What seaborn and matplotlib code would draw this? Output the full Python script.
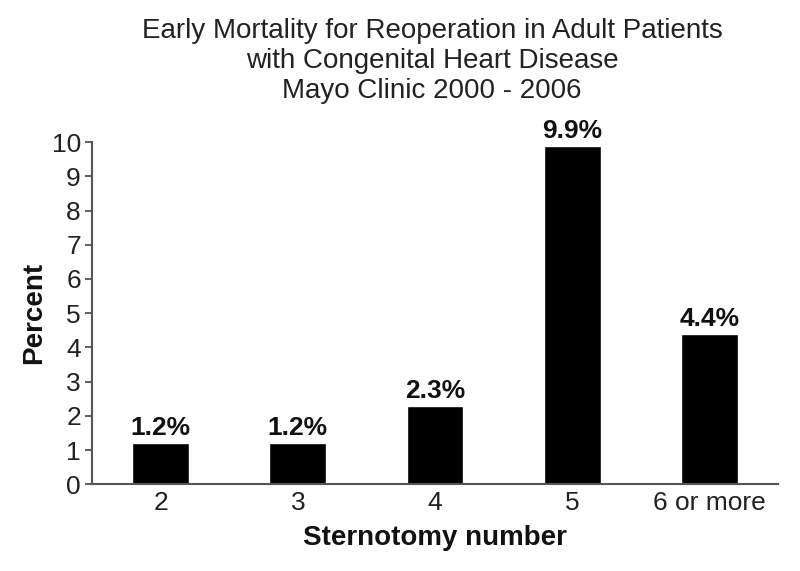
import matplotlib
matplotlib.use("Agg")
import matplotlib.pyplot as plt
import seaborn as sns
import pandas as pd

categories = ["2", "3", "4", "5", "6 or more"]
mortality = [1.2, 1.2, 2.3, 9.9, 4.4]
bar_labels = ["1.2%", "1.2%", "2.3%", "9.9%", "4.4%"]

sns.set_style("white")
plt.rcParams["font.family"] = ["Liberation Sans", "DejaVu Sans"]

df = pd.DataFrame({"sternotomy": categories, "percent": mortality})

fig = plt.figure(figsize=(8, 5.71), dpi=100)
ax = fig.add_axes([0.115, 0.152, 0.8575, 0.599])

sns.barplot(data=df, x="sternotomy", y="percent", color="black",
            width=0.415, saturation=1, ax=ax)

for i, (v, lab) in enumerate(zip(mortality, bar_labels)):
    ax.annotate(lab, (i, v), xytext=(0, 2), textcoords="offset points",
                ha="center", va="bottom", fontsize=19, fontweight="bold",
                color="#111111")

ax.set_xlim(-0.5, 4.5)
ax.set_ylim(0, 10)
ax.set_yticks(range(0, 11))
ax.tick_params(axis="y", direction="out", length=5, width=1.2, color="#444444",
               labelsize=19, pad=3, left=True)
ax.tick_params(axis="x", length=0, labelsize=19, pad=5)
for lab in ax.get_xticklabels() + ax.get_yticklabels():
    lab.set_color("#222222")

sns.despine(ax=ax)
for s in ["left", "bottom"]:
    ax.spines[s].set_color("#555555")
    ax.spines[s].set_linewidth(1.5)

ax.set_xlabel("Sternotomy number", fontsize=20, fontweight="bold", color="#111111",
              labelpad=7)
ax.set_ylabel("Percent", fontsize=20, fontweight="bold", color="#111111", labelpad=3)

fig.text(0.54, 0.968,
         "Early Mortality for Reoperation in Adult Patients\n"
         "with Congenital Heart Disease\n"
         "Mayo Clinic 2000 - 2006",
         ha="center", va="top", fontsize=20, color="#222222", linespacing=1.19)

fig.savefig("out.png", dpi=100)
